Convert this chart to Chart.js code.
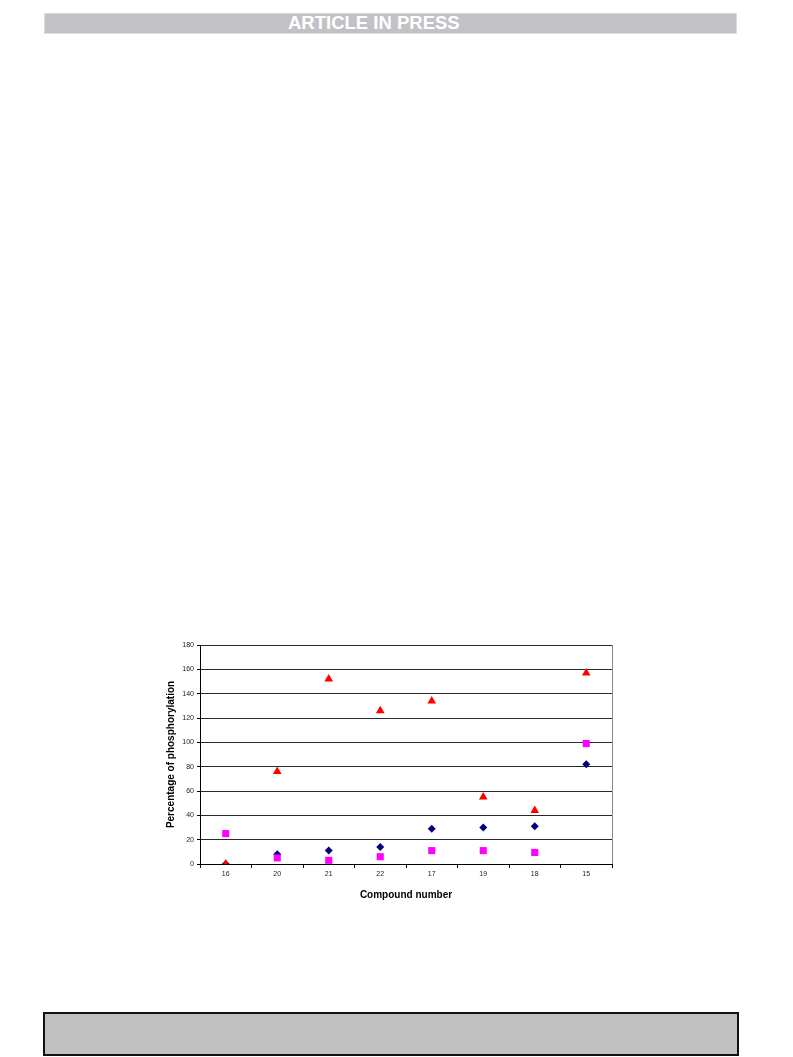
<!DOCTYPE html>
<html>
<head>
<meta charset="utf-8">
<script src="https://cdn.jsdelivr.net/npm/chart.js@4/dist/chart.umd.min.js"></script>
<style>
  body { margin: 0; background: #fff; width: 793px; height: 1057px; position: relative; overflow: hidden; }
  #header {
    position: absolute; left: 44px; top: 13px; width: 693px; height: 21px;
    background: #c2c2c6; border: 1px solid #dcdce0; box-sizing: border-box;
  }
  #header span {
    position: absolute; left: 243px; top: -2px;
    font-family: "Liberation Sans", Arial, sans-serif; font-weight: bold;
    font-size: 18.5px; color: #fff; white-space: nowrap;
  }
  #footer {
    position: absolute; left: 43px; top: 1012px; width: 696px; height: 44px;
    background: #c0c0c0; border: 2px solid #111; box-sizing: border-box;
  }
  #chartBox { position: absolute; left: 150px; top: 635px; width: 480px; height: 275px; }
</style>
</head>
<body>
<div id="header"><span>ARTICLE IN PRESS</span></div>
<div id="chartBox"><canvas id="phosChart" width="480" height="275"></canvas></div>
<div id="footer"></div>

<script>
const compounds = ["16", "20", "21", "22", "17", "19", "18", "15"];
const diamondValues = [0, 8, 11, 14, 29, 30, 31, 82];
const squareValues = [25, 5, 3, 6, 11, 11, 9.5, 99];
const triangleValues = [0, 76, 152, 126, 134, 55, 44, 157];
const yTicks = [0, 20, 40, 60, 80, 100, 120, 140, 160, 180];

const rightBorder = {
  id: "rightBorder",
  afterDatasetsDraw(chart) {
    const a = chart.chartArea;
    const ctx = chart.ctx;
    ctx.save();
    ctx.strokeStyle = "#888";
    ctx.lineWidth = 1;
    ctx.beginPath();
    ctx.moveTo(a.right + 0.5, a.top);
    ctx.lineTo(a.right + 0.5, a.bottom);
    ctx.stroke();
    ctx.restore();
  },
};

function renderChart() {
  const ctx = document.getElementById("phosChart");
  if (!ctx) return;

  new Chart(ctx, {
    type: "line",
    data: {
      labels: compounds,
      datasets: [
        {
          data: triangleValues,
          showLine: false,
          pointStyle: "triangle",
          pointRadius: 5,
          backgroundColor: "#ff0000",
          borderColor: "#ff0000",
          borderWidth: 0,
          order: 0,
        },
        {
          data: squareValues,
          showLine: false,
          pointStyle: "rect",
          pointRadius: 5,
          backgroundColor: "#ff00ff",
          borderColor: "#ff00ff",
          borderWidth: 0,
          order: 1,
        },
        {
          data: diamondValues,
          showLine: false,
          pointStyle: "rectRot",
          pointRadius: 4,
          backgroundColor: "#000080",
          borderColor: "#000080",
          borderWidth: 0,
          order: 2,
        },
      ],
    },
    options: {
      responsive: false,
      devicePixelRatio: 1,
      animation: false,
      layout: { padding: { top: 10, right: 18, left: 0, bottom: 0 } },
      plugins: {
        legend: { display: false },
        tooltip: { enabled: false },
      },
      scales: {
        x: {
          offset: true,
          grid: {
            offset: true,
            drawOnChartArea: false,
            drawTicks: true,
            tickLength: 4,
            tickColor: "#000",
          },
          border: { color: "#000" },
          ticks: {
            font: { family: "Liberation Sans, Arial, sans-serif", size: 7 },
            color: "#222",
            padding: 2,
            maxRotation: 0,
          },
          title: {
            display: true,
            text: "Compound number",
            font: { family: "Liberation Sans, Arial, sans-serif", size: 10, weight: "bold" },
            color: "#000",
            padding: { top: 0, bottom: 9 },
          },
          afterFit(axis) {
            axis.height = 46;
          },
        },
        y: {
          min: 0,
          max: 180,
          afterBuildTicks(axis) {
            axis.ticks = yTicks.map((v) => ({ value: v }));
          },
          grid: {
            color: "#2a2a2a",
            lineWidth: 1,
            tickLength: 3,
            tickColor: "#000",
          },
          border: { color: "#000" },
          ticks: {
            font: { family: "Liberation Sans, Arial, sans-serif", size: 7 },
            color: "#222",
            padding: 3,
          },
          title: {
            display: true,
            text: "Percentage of phosphorylation",
            font: { family: "Liberation Sans, Arial, sans-serif", size: 10, weight: "bold" },
            color: "#000",
            padding: { top: 15, bottom: 0 },
          },
          afterFit(axis) {
            axis.width = 50;
          },
        },
      },
    },
    plugins: [rightBorder],
  });
}

document.addEventListener("DOMContentLoaded", renderChart);
</script>
</body>
</html>
